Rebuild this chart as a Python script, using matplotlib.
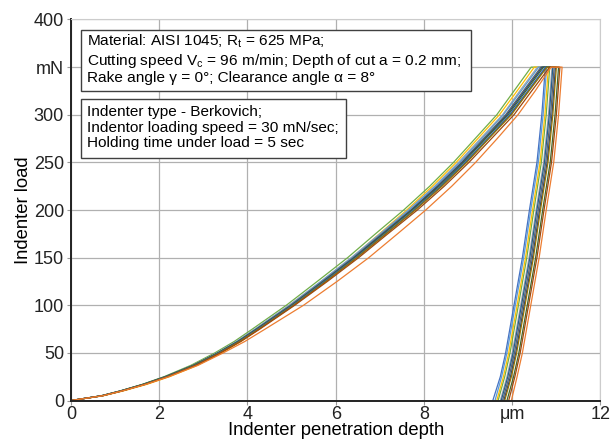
import numpy as np
import matplotlib
matplotlib.use("Agg")
import matplotlib.pyplot as plt
from matplotlib.patches import Rectangle

plt.rcParams['font.family'] = ['Liberation Sans', 'DejaVu Sans']
plt.rcParams['mathtext.fontset'] = 'custom'
plt.rcParams['mathtext.rm'] = 'Liberation Sans'
plt.rcParams['mathtext.it'] = 'Liberation Sans:italic'

load_up = [0, 5, 10, 17, 25, 37, 50, 62, 75, 100, 125, 150, 175, 200, 225, 250, 275, 300, 325, 350]
# load levels for the unloading branch
load_down = [350, 300, 250, 200, 150, 100, 50, 25, 0]

# series colours (Excel style palette)
colors = ['#70AD47', '#FFC000', '#A5A5A5', '#5B9BD5', '#636363', '#264478',
          '#43682B', '#4472C4', '#255E91', '#997300', '#9E480E', '#ED7D31']

# loading depths, um
depth_up = [
    [0, 0.69, 1.11, 1.62, 2.11, 2.72, 3.26, 3.70, 4.11, 4.88, 5.58, 6.27, 6.90, 7.54, 8.13, 8.67, 9.16, 9.65, 10.04, 10.43],
    [0, 0.73, 1.18, 1.72, 2.23, 2.87, 3.41, 3.85, 4.26, 5.01, 5.70, 6.37, 6.99, 7.61, 8.19, 8.73, 9.22, 9.71, 10.11, 10.50],
    [0, 0.70, 1.12, 1.64, 2.13, 2.76, 3.31, 3.75, 4.17, 4.94, 5.66, 6.35, 7.00, 7.64, 8.24, 8.78, 9.28, 9.78, 10.17, 10.57],
    [0, 0.70, 1.12, 1.64, 2.14, 2.77, 3.31, 3.76, 4.18, 4.96, 5.67, 6.37, 7.02, 7.66, 8.26, 8.81, 9.31, 9.80, 10.20, 10.60],
    [0, 0.70, 1.13, 1.65, 2.15, 2.78, 3.33, 3.78, 4.20, 4.98, 5.70, 6.40, 7.05, 7.70, 8.30, 8.85, 9.35, 9.85, 10.25, 10.65],
    [0, 0.70, 1.13, 1.65, 2.16, 2.79, 3.34, 3.79, 4.21, 5.00, 5.72, 6.42, 7.07, 7.72, 8.32, 8.87, 9.38, 9.88, 10.28, 10.68],
    [0, 0.68, 1.11, 1.63, 2.13, 2.77, 3.33, 3.79, 4.22, 5.01, 5.73, 6.44, 7.09, 7.74, 8.35, 8.90, 9.40, 9.91, 10.31, 10.71],
    [0, 0.71, 1.14, 1.67, 2.17, 2.81, 3.36, 3.82, 4.24, 5.03, 5.75, 6.46, 7.12, 7.77, 8.38, 8.93, 9.44, 9.94, 10.35, 10.75],
    [0, 0.71, 1.14, 1.67, 2.17, 2.81, 3.37, 3.82, 4.25, 5.04, 5.76, 6.47, 7.13, 7.79, 8.39, 8.95, 9.46, 9.96, 10.37, 10.77],
    [0, 0.72, 1.15, 1.68, 2.19, 2.83, 3.38, 3.83, 4.26, 5.05, 5.78, 6.48, 7.14, 7.80, 8.41, 8.97, 9.47, 9.98, 10.38, 10.79],
    [0, 0.71, 1.15, 1.68, 2.19, 2.83, 3.39, 3.85, 4.28, 5.07, 5.81, 6.52, 7.18, 7.85, 8.46, 9.02, 9.53, 10.04, 10.44, 10.85],
    [0, 0.72, 1.16, 1.70, 2.22, 2.88, 3.45, 3.94, 4.40, 5.27, 6.03, 6.75, 7.40, 8.04, 8.63, 9.17, 9.66, 10.13, 10.52, 10.88],
]

# unloading depths, um (first value = depth at end of holding)
depth_down = [
    [10.85, 10.77, 10.66, 10.49, 10.33, 10.14, 9.95, 9.83, 9.68],
    [10.82, 10.74, 10.63, 10.46, 10.30, 10.11, 9.92, 9.80, 9.65],
    [10.90, 10.82, 10.71, 10.54, 10.38, 10.19, 10.00, 9.88, 9.73],
    [10.78, 10.70, 10.59, 10.42, 10.26, 10.07, 9.88, 9.76, 9.61],
    [10.95, 10.87, 10.76, 10.59, 10.43, 10.24, 10.05, 9.93, 9.78],
    [10.98, 10.90, 10.79, 10.62, 10.46, 10.27, 10.08, 9.96, 9.81],
    [11.05, 10.97, 10.86, 10.69, 10.53, 10.34, 10.15, 10.03, 9.88],
    [10.75, 10.67, 10.56, 10.39, 10.23, 10.04, 9.85, 9.73, 9.56],
    [10.92, 10.84, 10.73, 10.56, 10.40, 10.21, 10.02, 9.90, 9.75],
    [11.00, 10.92, 10.81, 10.64, 10.48, 10.29, 10.10, 9.98, 9.83],
    [11.08, 11.00, 10.89, 10.72, 10.56, 10.37, 10.18, 10.06, 9.92],
    [11.13, 11.05, 10.94, 10.77, 10.61, 10.42, 10.23, 10.11, 9.98],
]

xticks = [0, 2, 4, 6, 8, 10, 12]
xtick_labels = ['0', '2', '4', '6', '8', 'μm', '12']
yticks = [0, 50, 100, 150, 200, 250, 300, 350, 400]
ytick_labels = ['0', '50', '100', '150', '200', '250', '300', 'mN', '400']

box1 = ("Material: AISI 1045; R$_\\mathregular{t}$ = 625 MPa;\n"
        "Cutting speed V$_\\mathregular{c}$ = 96 m/min; Depth of cut a = 0.2 mm;\n"
        "Rake angle γ = 0°; Clearance angle α = 8°")
box2 = ("Indenter type - Berkovich;\n"
        "Indentor loading speed = 30 mN/sec;\n"
        "Holding time under load = 5 sec")

fig = plt.figure(figsize=(6.1, 4.41), dpi=100)
ax = fig.add_axes([0.1164, 0.0918, 0.868, 0.864])

for c, up, down in zip(colors, depth_up, depth_down):
    x = list(up) + list(down)
    y = list(load_up) + list(load_down)
    ax.plot(x, y, color=c, lw=0.9)

ax.set_xlim(0, 12)
ax.set_ylim(0, 400)
ax.set_xticks(xticks)
ax.set_xticklabels(xtick_labels)
ax.set_yticks(yticks)
ax.set_yticklabels(ytick_labels)
ax.tick_params(labelsize=13, colors='#222222', length=3)
ax.tick_params(axis='x', pad=1, color='#999999')
ax.tick_params(axis='y', pad=2, color='#999999')
ax.grid(True, color='#b0b0b0', lw=0.9)
ax.set_axisbelow(True)

for s in ['top', 'right']:
    ax.spines[s].set_color('#cccccc')
for s in ['left', 'bottom']:
    ax.spines[s].set_color('#222222')
    ax.spines[s].set_linewidth(1.4)

ax.set_xlabel('Indenter penetration depth', fontsize=13.3, labelpad=-0.5)
ax.set_ylabel('Indenter load', fontsize=13.3, labelpad=1.5)

# note boxes
ax.add_patch(Rectangle((0.0183, 0.8123), 0.7364, 0.1601, transform=ax.transAxes,
                       fc='white', ec='#404040', lw=1, zorder=5))
ax.add_patch(Rectangle((0.0183, 0.6357), 0.5004, 0.1549, transform=ax.transAxes,
                       fc='white', ec='#404040', lw=1, zorder=5))
ax.text(0.0308, 0.9656, box1, transform=ax.transAxes, fontsize=11.1,
        va='top', ha='left', linespacing=1.13, zorder=6)
ax.text(0.0308, 0.7745, box2, transform=ax.transAxes, fontsize=11.1,
        va='top', ha='left', linespacing=1.13, zorder=6)

fig.savefig('out.png', dpi=100)
